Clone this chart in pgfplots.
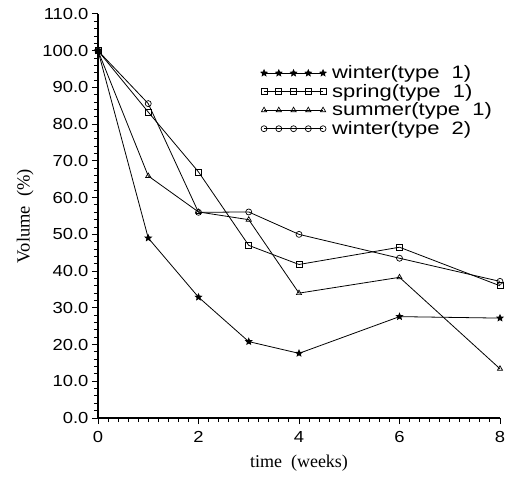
\documentclass[border=0pt]{standalone}
\usepackage{fontspec}
\setmainfont{Liberation Serif}
\newfontfamily\tickfont[FakeStretch=1.15]{Liberation Sans}
\newfontfamily\legfont[FakeStretch=1.22]{Liberation Sans}
\usepackage{pgfplots}
\pgfplotsset{compat=1.18}
\usetikzlibrary{plotmarks}
\pgfdeclareplotmark{fstar}{%
  \pgfpathmoveto{\pgfpointpolar{90}{\pgfplotmarksize}}%
  \pgfpathlineto{\pgfpointpolar{126}{0.45\pgfplotmarksize}}%
  \pgfpathlineto{\pgfpointpolar{162}{\pgfplotmarksize}}%
  \pgfpathlineto{\pgfpointpolar{198}{0.45\pgfplotmarksize}}%
  \pgfpathlineto{\pgfpointpolar{234}{\pgfplotmarksize}}%
  \pgfpathlineto{\pgfpointpolar{270}{0.45\pgfplotmarksize}}%
  \pgfpathlineto{\pgfpointpolar{306}{\pgfplotmarksize}}%
  \pgfpathlineto{\pgfpointpolar{342}{0.45\pgfplotmarksize}}%
  \pgfpathlineto{\pgfpointpolar{18}{\pgfplotmarksize}}%
  \pgfpathlineto{\pgfpointpolar{54}{0.45\pgfplotmarksize}}%
  \pgfpathclose\pgfusepathqfillstroke}
\begin{document}
\begin{tikzpicture}
\useasboundingbox (-98bp,-63bp) rectangle (414bp,418bp);
\begin{axis}[
  scale only axis,
  width=402bp, height=404bp,
  xmin=0, xmax=8, ymin=0, ymax=110,
  axis lines=left,
  axis line style={line width=1.5pt, -},
  xtick={0,2,4,6,8},
  ytick={0,10,...,110},
  minor x tick num=9,
  minor y tick num=4,
  tick align=outside,
  major tick length=6bp,
  minor tick length=4bp,
  tick style={line width=1pt, black},
  /pgf/number format/assume math mode=true,
  yticklabel style={font=\tickfont\fontsize{16bp}{18bp}\selectfont, /pgf/number format/.cd, fixed, fixed zerofill, precision=1},
  xticklabel style={font=\tickfont\fontsize{16bp}{18bp}\selectfont, yshift=-4bp},
  xlabel={time\ \ (weeks)},
  ylabel={Volume\ \ (\%)},
  xlabel style={font=\fontsize{18bp}{20bp}\selectfont, yshift=-5bp},
  ylabel style={font=\fontsize{18.5bp}{20bp}\selectfont, yshift=2bp},
  every axis plot/.append style={black, line width=0.8pt, mark size=3bp, mark options={solid, line width=0.7pt, fill=white}},
  legend image code/.code={\draw[mark repeat=1,#1] plot coordinates {(0bp,0bp)(14.75bp,0bp)(29.5bp,0bp)(44.25bp,0bp)(59bp,0bp)};},
  legend style={draw=none, fill=none, at={(0.405,0.877)}, anchor=north west, font=\legfont\fontsize{18bp}{17bp}\selectfont, inner sep=0pt, row sep=0bp, cells={anchor=west}, /tikz/every odd column/.append style={column sep=4bp}},
  legend cell align=left,
]
\addplot[mark=fstar, mark options={fill=black, mark size=3.2bp}] coordinates {(0,100) (1,49) (2,32.9) (3,20.8) (4,17.6) (6,27.6) (8,27.2)};
\addlegendentry{winter(type\ \ 1)}
\addplot[mark=square] coordinates {(0,100) (1,83.3) (2,67.0) (3,47.0) (4,41.8) (6,46.5) (8,36.0)};
\addlegendentry{spring(type\ \ 1)}
\addplot[mark=triangle] coordinates {(0,100) (1,65.9) (2,56.1) (3,54.0) (4,34.0) (6,38.3) (8,13.4)};
\addlegendentry{summer(type\ \ 1)}
\addplot[mark=o] coordinates {(0,100) (1,85.6) (2,56.0) (3,56.1) (4,50.0) (6,43.5) (8,37.2)};
\addlegendentry{winter(type\ \ 2)}
\end{axis}
\end{tikzpicture}
\end{document}
